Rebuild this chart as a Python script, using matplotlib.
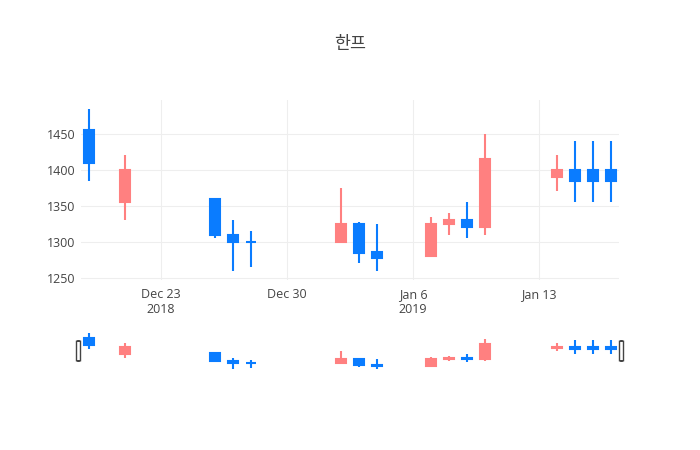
import numpy as np
import pandas as pd
import matplotlib
matplotlib.use("Agg")
import matplotlib.pyplot as plt
import matplotlib.dates as mdates
from matplotlib.patches import FancyBboxPatch

# ── Data ──────────────────────────────────────────────────────────────────────
dates = ["2018-12-19", "2018-12-21", "2018-12-26", "2018-12-27", "2018-12-28",
         "2019-01-02", "2019-01-03", "2019-01-04", "2019-01-07", "2019-01-08",
         "2019-01-09", "2019-01-10", "2019-01-14", "2019-01-15", "2019-01-16",
         "2019-01-17"]
opens  = [1456, 1355, 1360, 1310, 1300, 1300, 1325, 1286, 1280, 1325, 1330, 1320, 1390, 1400, 1400, 1400]
highs  = [1485, 1420, 1360, 1330, 1315, 1375, 1328, 1325, 1335, 1340, 1355, 1450, 1420, 1440, 1440, 1440]
lows   = [1385, 1330, 1305, 1260, 1265, 1300, 1270, 1260, 1280, 1310, 1305, 1310, 1370, 1355, 1355, 1355]
closes = [1409, 1400, 1310, 1300, 1300, 1325, 1285, 1278, 1325, 1330, 1320, 1415, 1400, 1385, 1385, 1385]

tick_dates  = ["2018-12-23", "2018-12-30", "2019-01-06", "2019-01-13"]
tick_labels = ["Dec 23\n2018", "Dec 30", "Jan 6\n2019", "Jan 13"]
y_ticks = [1250, 1300, 1350, 1400, 1450]

title = "한프"

INC = "#ff8080"
DEC = "#0a7cff"
TXT = "#444444"
GRID = "#eeeeee"

plt.rcParams["font.family"] = ["Open Sans", "Noto Sans CJK KR", "DejaVu Sans"]

x = mdates.date2num(pd.to_datetime(dates))
xt = mdates.date2num(pd.to_datetime(tick_dates))
xlim = (x[0] - 0.44, x[-1] + 0.44)
ylim = (1247, 1497)


def draw_candles(ax, body_w, lw):
    for xi, o, h, l, c in zip(x, opens, highs, lows, closes):
        col = INC if c > o else DEC
        ax.vlines(xi, l, h, color=col, lw=lw, zorder=2)
        lo, hi = min(o, c), max(o, c)
        if hi - lo < 1:
            ax.hlines(lo, xi - body_w / 2, xi + body_w / 2, color=col, lw=lw, zorder=3)
        else:
            ax.bar(xi, hi - lo, bottom=lo, width=body_w, color=col,
                   edgecolor=col, linewidth=lw, zorder=3)


fig = plt.figure(figsize=(7, 4.5), dpi=100)

# main plot: x 81..619 px, y 100..280 px
ax = fig.add_axes([81 / 700, 170 / 450, 538 / 700, 180 / 450])
draw_candles(ax, 0.55, 1.5)
ax.set_xlim(*xlim)
ax.set_ylim(*ylim)
ax.set_xticks(xt)
ax.set_xticklabels(tick_labels)
ax.set_yticks(y_ticks)
ax.grid(True, color=GRID, lw=0.75)
ax.set_axisbelow(True)
for s in ax.spines.values():
    s.set_visible(False)
ax.tick_params(length=0, labelsize=9, labelcolor=TXT, pad=6)
ax.tick_params(axis="y", pad=4)

fig.text(350 / 700, 1 - 44 / 450, title, ha="center", va="center",
         fontsize=12.5, color=TXT, family=["Noto Sans CJK KR", "DejaVu Sans"])

# range slider: y 331..371 px
sl = fig.add_axes([81 / 700, 79 / 450, 538 / 700, 40 / 450])
draw_candles(sl, 0.55, 1.5)
sl.set_xlim(*xlim)
sl.set_ylim(*ylim)
sl.set_xticks([])
sl.set_yticks([])
for s in sl.spines.values():
    s.set_visible(False)

# grabbers
for gx in (-4.5 / 538, 1 + 0.5 / 538):
    sl.add_patch(FancyBboxPatch((gx, 0.25), 4 / 538, 0.5,
                                boxstyle="round,pad=0,rounding_size=0.005",
                                transform=sl.transAxes, facecolor="white",
                                edgecolor=TXT, lw=1, clip_on=False, zorder=5))

fig.savefig("out.png", dpi=100)
